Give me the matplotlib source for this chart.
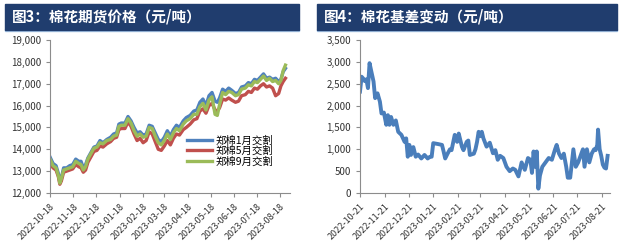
"""Two panels: cotton futures prices by contract and the cotton basis."""

import matplotlib.pyplot as plt
import matplotlib.dates as mdates
from matplotlib.patches import Rectangle
from matplotlib.ticker import FuncFormatter, MultipleLocator
import pandas as pd

plt.rcParams["font.family"] = ["Noto Sans CJK SC", "DejaVu Sans"]

# ---- panel 3: futures prices (days counted from 2022-10-18) ----
price_start = "2022-10-18"
price_days = [0, 4, 8, 11, 13, 15, 18, 22, 26, 30,
              34, 38, 41, 44, 47, 50, 54, 58, 62, 66,
              70, 75, 80, 84, 88, 91, 94, 99, 103, 107,
              111, 115, 119, 123, 127, 131, 135, 139, 143, 147,
              151, 155, 159, 163, 167, 171, 176, 180, 185, 190,
              194, 198, 202, 206, 210, 214, 218, 221, 224, 228,
              232, 236, 240, 245, 249, 253, 258, 262, 266, 270,
              274, 278, 282, 286, 290, 294, 298, 302, 305, 308,
              311]
price_jan = [13650, 13350, 13250, 12900, 12500, 12700, 13150, 13150, 13250, 13300,
             13550, 13450, 13450, 13150, 13300, 13600, 13850, 14100, 14150, 14400,
             14300, 14450, 14550, 14700, 14750, 15150, 15200, 15200, 15500, 15300,
             15000, 14750, 14800, 14650, 14700, 15100, 15050, 14750, 14450, 14350,
             14550, 14850, 14600, 14900, 15100, 15000, 15300, 15450, 15550, 15750,
             15800, 16150, 16300, 16000, 16450, 16600, 16200, 16150, 16350, 16750,
             16650, 16800, 16700, 16550, 16600, 16850, 16900, 17050, 17000, 17200,
             17150, 17300, 17450, 17250, 17300, 17200, 17250, 17100, 17200, 17550,
             17700]
price_may = [13400, 13150, 13050, 12750, 12400, 12550, 12950, 13000, 13050, 13100,
             13300, 13200, 13150, 12950, 13050, 13400, 13650, 13900, 13950, 14150,
             14100, 14250, 14350, 14500, 14550, 14900, 14950, 14950, 15250, 15050,
             14700, 14400, 14500, 14300, 14400, 14800, 14700, 14350, 14000, 13950,
             14150, 14400, 14200, 14500, 14700, 14650, 14900, 15000, 15150, 15350,
             15400, 15750, 15850, 15650, 16000, 16100, 15800, 15750, 15900, 16300,
             16250, 16350, 16250, 16150, 16200, 16450, 16500, 16650, 16600, 16800,
             16750, 16900, 17000, 16850, 16900, 16800, 16450, 16550, 16900, 17100,
             17250]
price_sep = [13550, 13250, 13150, 12800, 12450, 12650, 13050, 13100, 13150, 13200,
             13450, 13350, 13300, 13050, 13200, 13550, 13800, 14050, 14100, 14300,
             14250, 14400, 14450, 14600, 14650, 15050, 15100, 15100, 15400, 15200,
             14850, 14600, 14700, 14550, 14600, 15000, 14950, 14600, 14300, 14200,
             14400, 14700, 14450, 14750, 14950, 14850, 15150, 15300, 15400, 15600,
             15600, 15950, 16100, 15800, 16250, 16400, 15600, 15550, 16050, 16600,
             16500, 16650, 16600, 16450, 16500, 16750, 16800, 16950, 16900, 17100,
             17050, 17200, 17350, 17150, 17250, 17100, 17150, 17000, 17150, 17600,
             17850]
price_labels = ["郑棉1月交割", "郑棉5月交割", "郑棉9月交割"]

# ---- panel 4: basis (days counted from 2022-10-21) ----
basis_start = "2022-10-21"
basis_days = [0, 2, 4, 6, 8, 10, 12, 14, 17, 19,
              22, 25, 27, 30, 33, 35, 37, 39, 42, 45,
              48, 52, 56, 58, 60, 62, 64, 67, 70, 73,
              77, 81, 85, 88, 90, 92, 98, 103, 105, 107,
              110, 113, 115, 119, 122, 124, 128, 130, 134, 136,
              138, 143, 145, 147, 149, 151, 153, 155, 159, 163,
              167, 170, 173, 176, 180, 184, 188, 192, 195, 199,
              203, 207, 211, 214, 216, 218, 220, 222, 224, 226,
              229, 233, 237, 241, 245, 247, 250, 253, 256, 259,
              261, 264, 268, 271, 274, 277, 280, 282, 285, 288,
              291, 294, 296, 298, 299, 301, 303, 305, 307, 309,
              311]
basis_values = [2320, 2660, 2620, 2560, 2600, 2400, 2970, 2800, 2550, 2170,
                2280, 2090, 1820, 1840, 1560, 1780, 1560, 1740, 1560, 1660,
                1400, 1330, 1170, 1250, 830, 1100, 870, 1050, 830, 880,
                790, 870, 790, 830, 830, 1140, 1120, 1100, 950, 790,
                900, 1000, 980, 1330, 1170, 1360, 1060, 980, 1170, 1200,
                870, 900, 1000, 1170, 1400, 1300, 1400, 1250, 1060, 1150,
                910, 980, 760, 850, 800, 600, 500, 560, 530, 380,
                700, 530, 800, 760, 460, 950, 600, 950, 100, 400,
                600, 700, 800, 760, 1000, 1100, 900, 800, 900, 600,
                350, 350, 1000, 600, 700, 850, 1000, 600, 1000, 700,
                900, 1000, 980, 1100, 1450, 1000, 850, 650, 580, 560,
                850]

titles = ["图3：棉花期货价格（元/吨）", "图4：棉花基差变动（元/吨）"]
bar_color = "#203d6e"
spine_color = "#8c8c8c"


def to_dates(start, days):
    return pd.Timestamp(start) + pd.to_timedelta(days, unit="D")


def style_axes(ax, start, span_days, ymin, ymax, ystep):
    ax.set_ylim(ymin, ymax)
    ax.yaxis.set_major_locator(MultipleLocator(ystep))
    ax.yaxis.set_major_formatter(FuncFormatter(lambda v, p: f"{v:,.0f}"))
    ax.set_xlim(pd.Timestamp(start), pd.Timestamp(start) + pd.Timedelta(days=span_days))
    ticks = pd.date_range(start, periods=11, freq=pd.DateOffset(months=1))
    ax.set_xticks(ticks)
    ax.xaxis.set_major_formatter(mdates.DateFormatter("%Y-%m-%d"))
    for side in ("top", "right"):
        ax.spines[side].set_visible(False)
    for side in ("left", "bottom"):
        ax.spines[side].set_color(spine_color)
        ax.spines[side].set_linewidth(0.8)
    ax.tick_params(axis="both", colors=spine_color, length=3, width=0.8,
                   labelcolor="#333333", labelsize=7)
    ax.tick_params(axis="x", labelsize=6.5)
    for lab in ax.get_xticklabels():
        lab.set_rotation(45)
        lab.set_ha("right")
        lab.set_rotation_mode("anchor")


fig = plt.figure(figsize=(6.2, 2.47), dpi=100)

# title bars
for x0, x1, title in [(5, 299, titles[0]), (317, 617, titles[1])]:
    fig.patches.append(Rectangle((x0 / 620, 1 - 31 / 247), (x1 - x0) / 620, 2 / 247,
                                 transform=fig.transFigure, color="#a9c8e8", zorder=0))
    fig.patches.append(Rectangle((x0 / 620, 1 - 30 / 247), (x1 - x0) / 620, 26 / 247,
                                 transform=fig.transFigure, color=bar_color, zorder=1))
    fig.text((x0 + 7) / 620, 1 - 17 / 247, title, color="white", fontsize=10.5,
             fontweight="bold", va="center", ha="left")

ax1 = fig.add_axes([50 / 620, 54 / 247, 240 / 620, 153 / 247])
d1 = to_dates(price_start, price_days)
ax1.plot(d1, price_jan, color="#4f81bd", lw=2.4, label=price_labels[0])
ax1.plot(d1, price_may, color="#c0504d", lw=2.4, label=price_labels[1])
ax1.plot(d1, price_sep, color="#9bbb59", lw=2.4, label=price_labels[2])
style_axes(ax1, price_start, 317, 12000, 19000, 1000)
ax1.legend(loc="upper left", bbox_to_anchor=(0.55, 0.41), frameon=False, fontsize=7.5,
           handlelength=2.4, labelspacing=0.0, handletextpad=0.3, borderpad=0)

ax2 = fig.add_axes([360 / 620, 54 / 247, 250 / 620, 153 / 247])
d2 = to_dates(basis_start, basis_days)
ax2.plot(d2, basis_values, color="#4a7ebb", lw=2.8)
style_axes(ax2, basis_start, 314, 0, 3500, 500)

fig.savefig("out.png", dpi=100)
plt.close(fig)
